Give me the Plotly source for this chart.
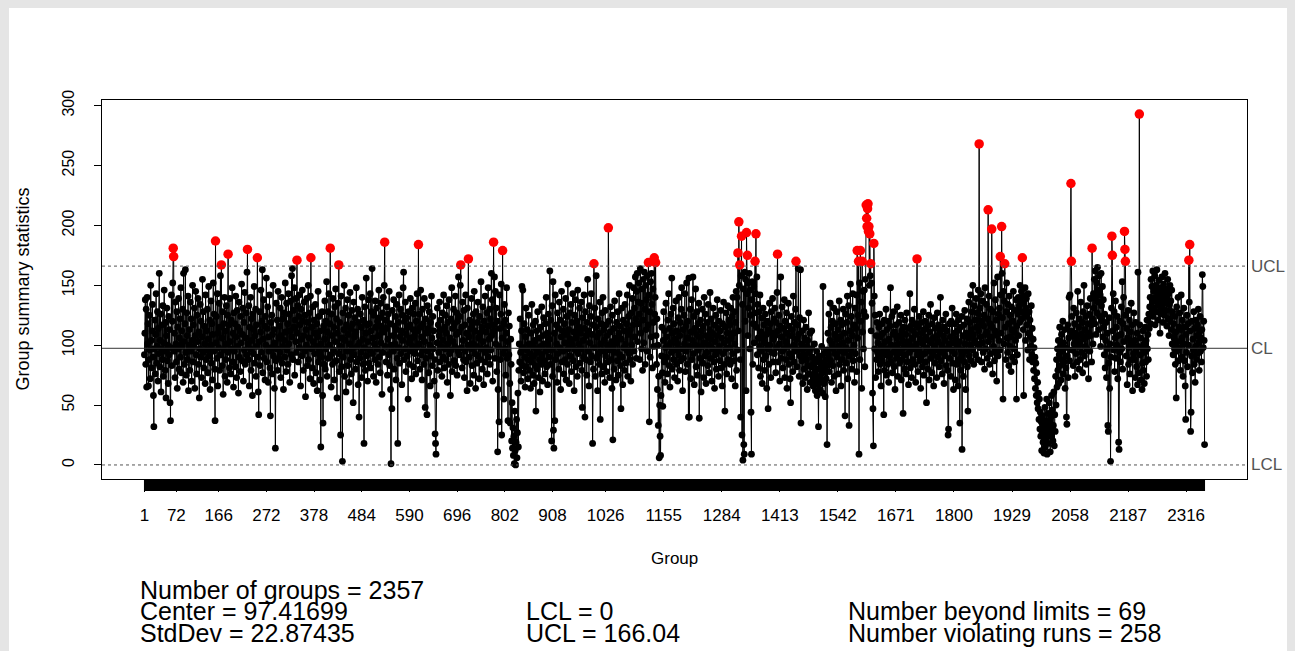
import plotly.graph_objects as go

# ---------------- data (group summary statistics) ----------------
seg01 = [92, 110, 138, 84, 130, 65, 140, 101, 118, 66,
         88, 125, 96, 72, 150, 104, 81, 112, 134, 90,
         58, 32, 97, 121, 76, 109, 143, 85, 99, 128,
         70, 114, 93, 160, 82, 104, 126, 61, 97, 117,
         88, 133, 74, 102, 146, 95, 79, 119, 56, 108,
         131, 87, 100, 68, 124, 92, 113, 52, 37, 98,
         142, 83, 120, 152, 181, 174, 95, 110, 73, 136,
         101, 86, 128, 64, 115, 97, 139, 80, 106, 122,
         90, 148, 77, 112, 99, 130, 69, 160, 103, 84,
         118, 163, 94, 75, 127, 108, 88, 141, 62, 100]
seg02 = [113, 79, 136, 95, 122, 70, 104, 150, 86, 117,
         99, 131, 64, 108, 145, 92, 76, 125, 103, 139,
         84, 111, 56, 97, 134, 90, 120, 73, 107, 155,
         94, 128, 81, 116, 101, 68, 142, 88, 112, 96,
         130, 77, 105, 149, 91, 121, 63, 100, 137, 85,
         118, 71, 109, 152, 95, 126, 80, 37, 187, 102,
         124, 89, 143, 66, 110, 98, 135, 79, 115, 158,
         92, 167, 106, 83, 128, 59, 118, 96, 140, 74,
         112, 88, 133, 101, 69, 125, 176, 94, 117, 81,
         139, 103, 76, 121, 97, 148, 86, 110, 65, 127]
seg03 = [95, 118, 82, 141, 107, 73, 129, 99, 115, 60,
         136, 90, 112, 78, 124, 102, 151, 87, 109, 131,
         70, 119, 96, 144, 84, 106, 127, 92, 161, 180,
         101, 88, 133, 66, 115, 97, 140, 79, 122, 104,
         58, 126, 93, 113, 149, 85, 108, 130, 74, 117,
         99, 173, 90, 61, 42, 103, 128, 83, 111, 146,
         94, 120, 163, 77, 105, 138, 89, 116, 71, 124,
         100, 156, 86, 114, 132, 69, 107, 95, 142, 81,
         41, 119, 98, 125, 76, 109, 150, 91, 113, 64,
         102, 14, 87, 135, 97, 121, 79, 145, 106, 89]
seg04 = [116, 94, 131, 73, 108, 140, 85, 122, 99, 63,
         127, 104, 90, 152, 111, 78, 135, 96, 118, 84,
         143, 101, 126, 69, 112, 137, 92, 158, 107, 164,
         88, 129, 115, 148, 75, 121, 103, 139, 94, 171,
         110, 133, 86, 124, 142, 98, 117, 66, 130, 105,
         91, 146, 120, 79, 108, 136, 95, 125, 57, 113,
         100, 139, 83, 119, 150, 88, 106, 127, 72, 141,
         173, 97, 115, 81, 132, 103, 68, 121, 93, 110,
         134, 77, 99, 118, 62, 107, 145, 86, 124, 95,
         71, 112, 15, 101, 90, 128, 58, 35, 116, 84]
seg05 = [105, 137, 80, 120, 97, 153, 74, 111, 128, 89,
         143, 100, 118, 181, 92, 65, 126, 108, 84, 139,
         96, 115, 71, 132, 103, 147, 87, 122, 56, 110,
         135, 93, 167, 78, 119, 99, 25, 141, 82, 106,
         3, 127, 90, 113, 150, 74, 104, 131, 61, 117,
         95, 138, 83, 109, 125, 69, 101, 144, 88, 114,
         76, 129, 97, 118, 52, 136, 92, 107, 123, 80,
         111, 148, 86, 99, 130, 67, 119, 40, 102, 89,
         126, 94, 115, 73, 140, 105, 84, 121, 18, 98,
         132, 79, 110, 156, 91, 117, 70, 103, 138, 85]
seg06 = [118, 96, 143, 81, 112, 128, 164, 93, 106, 74,
         125, 101, 88, 137, 115, 69, 131, 97, 120, 84,
         108, 146, 90, 123, 77, 135, 102, 116, 59, 127,
         94, 140, 111, 150, 186, 99, 121, 86, 114, 132,
         75, 105, 126, 92, 145, 83, 118, 63, 1, 100,
         47, 129, 108, 95, 138, 80, 116, 101, 124, 71,
         113, 134, 89, 18, 98, 119, 142, 85, 107, 130,
         93, 112, 67, 125, 104, 148, 161, 88, 120, 97,
         136, 78, 109, 123, 91, 115, 55, 128, 102, 84,
         117, 139, 95, 106, 72, 131, 99, 113, 82, 126]
seg07 = [108, 93, 135, 76, 120, 98, 143, 87, 112, 184,
         101, 126, 80, 115, 146, 92, 107, 71, 130, 96,
         118, 84, 139, 103, 48, 122, 89, 110, 42, 133,
         95, 114, 77, 128, 100, 66, 119, 91, 141, 106,
         83, 124, 97, 112, 70, 88, 26, 18, 9, 58,
         102, 131, 79, 117, 94, 108, 136, 86, 121, 99,
         113, 74, 127, 104, 90, 142, 81, 115, 97, 125,
         88, 110, 133, 69, 119, 101, 84, 138, 93, 106,
         58, 122, 96, 148, 78, 114, 103, 130, 87, 118,
         99, 141, 83, 109, 127, 75, 120, 95, 157, 111]
seg08 = [92, 124, 150, 167, 98, 115, 81, 136, 104, 88,
         129, 73, 117, 95, 142, 86, 110, 62, 131, 100,
         172, 107, 90, 121, 68, 114, 97, 139, 83, 118,
         101, 126, 75, 145, 93, 112, 64, 128, 99, 85,
         119, 136, 91, 106, 72, 124, 110, 88, 153, 97,
         115, 80, 132, 103, 67, 120, 94, 141, 86, 111,
         98, 127, 76, 116, 148, 90, 105, 130, 84, 122,
         96, 160, 108, 138, 70, 117, 186, 112, 157, 89,
         145, 101, 131, 78, 120, 11, 63, 99, 36, 142,
         114, 88, 126, 151, 25, 106, 179, 93, 118, 55]
seg09 = [134, 97, 121, 75, 110, 148, 89, 103, 37, 127,
         92, 116, 68, 35, 105, 84, 20, 52, 14, 31,
         8, 24, 1, 45, 12, 0, 19, 38, 6, 27,
         60, 15, 79, 101, 86, 122, 94, 70, 112, 149,
         83, 146, 98, 77, 118, 90, 65, 107, 131, 82,
         96, 113, 72, 88, 125, 101, 79, 93, 64, 110,
         86, 134, 99, 75, 117, 91, 68, 104, 83, 120,
         45, 97, 112, 80, 128, 94, 73, 106, 88, 61,
         115, 99, 84, 132, 92, 70, 108, 123, 87, 101,
         76, 118, 95, 140, 82, 110, 67, 100, 126, 90]
seg10 = [105, 162, 84, 121, 96, 20, 133, 74, 153, 29,
         14, 110, 37, 142, 88, 117, 101, 69, 127, 93,
         114, 80, 136, 98, 121, 63, 107, 145, 86, 112,
         95, 130, 76, 118, 102, 88, 139, 71, 109, 124,
         84, 151, 97, 113, 68, 127, 91, 105, 134, 78,
         119, 100, 143, 87, 111, 62, 125, 96, 138, 82,
         106, 120, 74, 146, 93, 115, 101, 131, 85, 110,
         97, 136, 79, 48, 123, 104, 90, 142, 114, 40,
         128, 88, 108, 75, 119, 155, 95, 112, 66, 133,
         102, 86, 124, 143, 91, 109, 18, 117, 80, 168]
seg11 = [98, 131, 74, 115, 158, 89, 107, 62, 122, 93,
         110, 84, 136, 38, 101, 118, 76, 127, 95, 140,
         82, 113, 104, 69, 129, 91, 117, 78, 108, 100,
         86, 198, 120, 96, 73, 111, 132, 88, 103, 64,
         125, 21, 99, 114, 80, 137, 94, 106, 71, 119,
         102, 87, 128, 75, 110, 143, 92, 116, 83, 47,
         105, 131, 90, 67, 121, 98, 112, 79, 134, 101,
         85, 118, 96, 142, 74, 109, 124, 93, 150, 88,
         113, 70, 127, 100, 139, 84, 117, 148, 95, 131,
         107, 157, 122, 89, 145, 160, 103, 136, 118, 152]
seg12 = [126, 88, 164, 110, 135, 97, 147, 79, 121, 155,
         102, 161, 130, 84, 150, 113, 138, 95, 158, 117,
         169, 142, 36, 128, 90, 153, 107, 160, 134, 81,
         147, 119, 99, 173, 126, 140, 169, 108, 84, 122,
         63, 100, 33, 74, 6, 50, 24, 8, 58, 91,
         115, 77, 49, 104, 128, 86, 112, 69, 98, 135,
         90, 107, 76, 121, 99, 143, 83, 114, 65, 102,
         126, 94, 156, 80, 110, 131, 88, 118, 73, 105,
         96, 137, 84, 112, 101, 70, 123, 92, 140, 79,
         108, 119, 87, 130, 148, 97, 62, 113, 89, 125]
seg13 = [101, 143, 78, 116, 95, 152, 84, 120, 106, 40,
         156, 40, 99, 130, 72, 111, 138, 88, 104, 157,
         93, 124, 67, 114, 100, 147, 82, 109, 128, 75,
         118, 96, 135, 39, 107, 89, 121, 61, 112, 99,
         130, 85, 116, 73, 140, 102, 91, 126, 68, 108,
         94, 119, 83, 134, 100, 77, 113, 144, 89, 105,
         122, 70, 110, 97, 131, 86, 117, 64, 103, 92,
         125, 80, 108, 138, 95, 114, 74, 120, 99, 87,
         112, 129, 81, 106, 66, 118, 93, 136, 102, 84,
         45, 115, 97, 127, 76, 110, 133, 88, 104, 121]
seg14 = [98, 117, 84, 131, 106, 72, 124, 93, 140, 110,
         87, 128, 101, 66, 119, 145, 79, 140, 96, 177,
         112, 203, 150, 167, 88, 40, 158, 191, 25, 134,
         4, 147, 17, 9, 161, 120, 155, 62, 194, 143,
         175, 108, 152, 131, 160, 97, 146, 125, 44, 9,
         138, 153, 84, 118, 149, 102, 127, 170, 143, 193,
         115, 157, 92, 134, 106, 81, 128, 99, 142, 74,
         111, 95, 123, 68, 106, 131, 88, 117, 79, 102,
         126, 91, 109, 64, 120, 97, 47, 113, 84, 135,
         100, 118, 73, 128, 94, 110, 139, 86, 105, 122]
seg15 = [93, 131, 108, 77, 119, 98, 144, 176, 112, 86,
         125, 101, 70, 116, 157, 89, 107, 132, 95, 81,
         114, 97, 138, 73, 120, 103, 88, 127, 64, 110,
         99, 135, 84, 116, 93, 72, 52, 108, 124, 90,
         113, 78, 141, 100, 86, 119, 95, 130, 170, 105,
         82, 117, 96, 164, 109, 74, 123, 91, 163, 35,
         101, 87, 112, 68, 97, 121, 80, 106, 92, 73,
         115, 88, 99, 63, 104, 83, 127, 76, 94, 110,
         69, 97, 82, 112, 75, 90, 66, 84, 71, 101,
         78, 62, 88, 73, 95, 58, 80, 67, 32, 86]
seg16 = [74, 91, 63, 82, 70, 99, 77, 60, 149, 85,
         68, 93, 79, 57, 88, 72, 96, 17, 83, 110,
         92, 126, 78, 104, 135, 87, 115, 69, 101, 120,
         83, 97, 131, 74, 109, 93, 118, 62, 105, 128,
         90, 113, 76, 99, 137, 84, 107, 121, 66, 95,
         117, 88, 102, 130, 79, 110, 94, 41, 126, 98,
         85, 119, 141, 72, 104, 133, 33, 91, 112, 151,
         96, 124, 80, 108, 143, 87, 117, 100, 69, 131,
         93, 114, 142, 78, 179, 106, 125, 170, 9, 152,
         88, 179, 120, 136, 64, 170, 111, 145, 97, 128]
seg17 = [146, 82, 155, 124, 217, 206, 199, 214, 218, 195,
         199, 150, 193, 158, 168, 112, 152, 135, 60, 47,
         16, 185, 141, 97, 125, 73, 108, 88, 119, 94,
         102, 78, 115, 91, 126, 84, 107, 66, 99, 118,
         87, 110, 95, 42, 121, 79, 103, 92, 130, 75,
         113, 97, 84, 120, 69, 105, 91, 116, 148, 86,
         100, 124, 77, 109, 94, 128, 82, 111, 63, 98,
         117, 89, 106, 132, 74, 101, 93, 119, 85, 108,
         96, 125, 71, 112, 88, 104, 43, 115, 98, 80,
         121, 92, 109, 76, 127, 100, 86, 114, 67, 103]
seg18 = [94, 143, 81, 116, 99, 73, 121, 106, 88, 112,
         97, 130, 84, 109, 69, 118, 101, 172, 92, 78,
         115, 96, 124, 87, 105, 64, 119, 91, 110, 82,
         101, 128, 75, 113, 93, 120, 86, 107, 52, 98,
         116, 80, 104, 125, 71, 111, 95, 134, 89, 102,
         77, 118, 92, 106, 66, 123, 99, 85, 114, 96,
         108, 73, 127, 90, 103, 117, 82, 110, 94, 140,
         87, 113, 100, 76, 121, 95, 108, 68, 115, 91,
         104, 126, 83, 97, 112, 79, 25, 30, 101, 118,
         89, 107, 74, 120, 96, 131, 85, 102, 63, 110]
seg19 = [93, 118, 71, 105, 126, 84, 99, 112, 66, 121,
         88, 103, 35, 115, 79, 96, 124, 13, 92, 108,
         74, 117, 86, 129, 101, 63, 110, 95, 122, 82,
         45, 106, 136, 91, 119, 100, 142, 87, 113, 128,
         96, 150, 109, 84, 133, 104, 121, 92, 139, 115,
         101, 127, 88, 146, 112, 268, 98, 131, 107, 143,
         86, 120, 102, 137, 94, 116, 125, 80, 148, 109,
         97, 134, 111, 89, 122, 213, 103, 141, 84, 118,
         130, 93, 107, 197, 115, 76, 128, 99, 152, 87,
         112, 138, 95, 121, 70, 108, 157, 91, 126, 104]
seg20 = [131, 96, 174, 142, 110, 199, 160, 123, 55, 145,
         101, 137, 168, 115, 88, 128, 152, 106, 94, 134,
         118, 83, 141, 99, 125, 107, 78, 132, 113, 90,
         120, 145, 97, 111, 86, 129, 104, 138, 55, 116,
         92, 126, 140, 108, 133, 119, 150, 137, 128, 145,
         122, 173, 135, 113, 58, 141, 126, 148, 104, 131,
         139, 117, 124, 96, 143, 110, 128, 88, 121, 107,
         99, 133, 92, 114, 86, 105, 79, 98, 72, 90,
         64, 85, 58, 77, 52, 69, 47, 60, 38, 55,
         30, 44, 24, 36, 12, 28, 41, 19, 33, 10]
seg21 = [26, 48, 15, 37, 22, 55, 9, 31, 43, 18,
         27, 52, 35, 11, 40, 24, 58, 29, 46, 20,
         33, 61, 16, 42, 28, 74, 50, 88, 65, 97,
         79, 104, 68, 92, 115, 83, 100, 71, 109, 88,
         95, 120, 76, 102, 86, 113, 64, 98, 81, 40,
         34, 91, 117, 73, 106, 140, 87, 142, 112, 235,
         170, 124, 96, 108, 83, 131, 101, 118, 74, 110,
         93, 127, 105, 86, 145, 99, 115, 80, 122, 102,
         88, 136, 109, 94, 119, 77, 128, 105, 150, 91,
         113, 99, 124, 84, 107, 133, 96, 118, 72, 110]
seg22 = [126, 95, 139, 108, 117, 86, 181, 122, 101, 143,
         131, 155, 118, 162, 140, 109, 152, 127, 165, 136,
         146, 113, 158, 124, 142, 99, 160, 133, 120, 149,
         107, 138, 115, 92, 126, 81, 104, 119, 73, 97,
         110, 33, 28, 85, 123, 64, 101, 3, 90, 131,
         191, 175, 112, 143, 96, 128, 78, 106, 137, 89,
         115, 100, 124, 72, 108, 19, 13, 94, 120, 86,
         109, 132, 97, 153, 80, 118, 140, 103, 195, 180,
         170, 125, 91, 114, 67, 106, 129, 84, 98, 121,
         76, 111, 102, 135, 88, 117, 62, 100, 93, 127]
seg23 = [88, 104, 73, 119, 96, 82, 110, 67, 161, 99,
         77, 293, 117, 92, 106, 71, 98, 63, 85, 112,
         79, 101, 68, 94, 115, 86, 104, 74, 121, 97,
         109, 88, 126, 114, 132, 140, 118, 155, 127, 149,
         136, 162, 124, 145, 131, 158, 117, 140, 150, 128,
         163, 137, 146, 121, 154, 133, 142, 110, 148, 126,
         139, 157, 130, 144, 119, 151, 135, 125, 160, 141,
         129, 147, 116, 138, 155, 122, 143, 108, 134, 150,
         120, 137, 113, 146, 101, 128, 92, 118, 106, 97,
         124, 84, 111, 56, 132, 95, 103, 140, 87, 115]
seg24 = [98, 127, 79, 113, 142, 90, 106, 121, 74, 101,
         131, 87, 115, 66, 38, 109, 94, 125, 82, 118,
         100, 171, 136, 184, 112, 28, 44, 91, 120, 77,
         105, 96, 128, 84, 114, 69, 99, 121, 88, 108,
         117, 93, 130, 102, 79, 111, 124, 95, 106, 86,
         113, 159, 149, 98, 120, 104, 17]

center = 97.41699
std_dev = 22.87435
lcl = 0
ucl = 166.04
n_beyond = 69
n_runs = 258
tick_groups = [1, 72, 166, 272, 378, 484, 590, 696, 802, 908, 1026, 1155,
               1284, 1413, 1542, 1671, 1800, 1929, 2058, 2187, 2316]
y_ticks = [0, 50, 100, 150, 200, 250, 300]

stats = (seg01 + seg02 + seg03 + seg04 + seg05 + seg06 + seg07 + seg08 +
         seg09 + seg10 + seg11 + seg12 + seg13 + seg14 + seg15 + seg16 +
         seg17 + seg18 + seg19 + seg20 + seg21 + seg22 + seg23 + seg24)
n = len(stats)
groups = list(range(1, n + 1))

# ---------------- layout geometry ----------------
W, H = 1295, 651
L, R, T, B = 102, 48, 100, 172
PW, PH = W - L - R, H - T - B

def px(xp):
    return (xp - L) / PW

def py(yp):
    return (H - B - yp) / PH

xr = [1 - 0.04 * (n - 1), n + 0.04 * (n - 1)]
ylo = min(min(stats), lcl)
yhi = max(max(stats), ucl)
yr = [ylo - 0.04 * (yhi - ylo), yhi + 0.04 * (yhi - ylo)]

in_x = [g for g, v in zip(groups, stats) if lcl <= v <= ucl]
in_y = [v for v in stats if lcl <= v <= ucl]
out_x = [g for g, v in zip(groups, stats) if v > ucl or v < lcl]
out_y = [v for v in stats if v > ucl or v < lcl]

FONT = "Liberation Sans, Arial, Helvetica, sans-serif"

fig = go.Figure()
fig.add_trace(go.Scatter(x=groups, y=stats, mode="lines",
                         line=dict(color="black", width=1), hoverinfo="skip"))
fig.add_trace(go.Scatter(x=in_x, y=in_y, mode="markers",
                         marker=dict(color="black", size=6.8, line=dict(width=0))))
fig.add_trace(go.Scatter(x=out_x, y=out_y, mode="markers",
                         marker=dict(color="#ff0000", size=9.5, line=dict(width=0))))

shapes = [
    # white panel
    dict(type="rect", xref="paper", yref="paper", x0=px(9), x1=px(1287),
         y0=py(651), y1=py(8), fillcolor="white", line=dict(width=0), layer="below"),
    # control lines
    dict(type="line", xref="paper", yref="y", x0=0, x1=1, y0=center, y1=center,
         line=dict(color="#333333", width=1)),
    dict(type="line", xref="paper", yref="y", x0=0, x1=1, y0=ucl, y1=ucl,
         line=dict(color="#555555", width=1, dash="3px,3px")),
    dict(type="line", xref="paper", yref="y", x0=0, x1=1, y0=lcl, y1=lcl,
         line=dict(color="#555555", width=1, dash="3px,3px")),
    # dense group tick marks below the axis
    dict(type="rect", xref="x", yref="paper", x0=groups[0] - 1, x1=groups[-1] + 1,
         y0=py(491), y1=py(479), fillcolor="black", line=dict(width=0)),
]

ann = []
for lab, val in (("UCL", ucl), ("CL", center), ("LCL", lcl)):
    ann.append(dict(x=1, xref="paper", y=val, yref="y", text=lab, showarrow=False,
                    xanchor="left", xshift=2, font=dict(size=17, color="#555555", family=FONT)))
ann.append(dict(x=px(22), y=(py(100) + py(479)) / 2, xref="paper", yref="paper",
                text="Group summary statistics", textangle=-90, showarrow=False,
                xanchor="center", yanchor="middle",
                font=dict(size=18, color="black", family=FONT)))
ann.append(dict(x=px(674), y=py(558), xref="paper", yref="paper", text="Group",
                showarrow=False, xanchor="center", yanchor="middle",
                font=dict(size=17, color="black", family=FONT)))
bottom = [
    (138, 590, f"Number of groups = {n}"),
    (138, 611, f"Center = {center}"),
    (138, 633, f"StdDev = {std_dev}"),
    (524, 611, f"LCL = {lcl}"),
    (524, 633, f"UCL = {ucl}"),
    (846, 611, f"Number beyond limits = {n_beyond}"),
    (846, 633, f"Number violating runs = {n_runs}"),
]
for xp, yp, txt in bottom:
    ann.append(dict(x=px(xp), y=py(yp), xref="paper", yref="paper", text=txt,
                    showarrow=False, xanchor="left", yanchor="middle",
                    font=dict(size=25, color="black", family=FONT)))

fig.update_layout(
    width=W, height=H,
    margin=dict(l=L, r=R, t=T, b=B, pad=0),
    paper_bgcolor="#e5e5e5", plot_bgcolor="white",
    showlegend=False, shapes=shapes, annotations=ann,
    font=dict(family=FONT, color="black"),
)
fig.update_xaxes(range=xr, showgrid=False, zeroline=False, showline=True, mirror=True,
                 linecolor="black", linewidth=1, tickmode="array", tickvals=tick_groups,
                 ticktext=[str(t) for t in tick_groups], ticks="outside", ticklen=12,
                 tickcolor="black", ticklabelstandoff=9, tickfont=dict(size=17, family=FONT))
fig.update_yaxes(range=yr, showgrid=False, zeroline=False, showline=True, mirror=True,
                 linecolor="black", linewidth=1, tickmode="array", tickvals=y_ticks,
                 ticks="outside", ticklen=7, tickcolor="black", tickangle=-90,
                 ticklabelstandoff=14, tickfont=dict(size=16, family=FONT))

fig.write_html("out.html")
